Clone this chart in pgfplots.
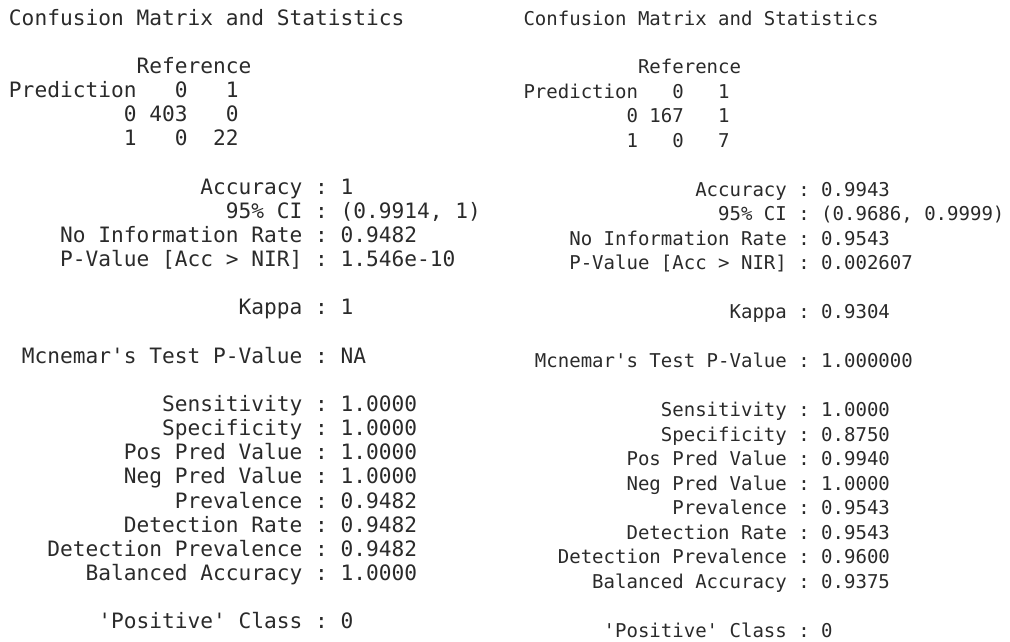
\documentclass[border=0pt]{standalone}
\usepackage{fontspec}
\setmonofont{DejaVu Sans Mono}
\usepackage{pgfplots}
\pgfplotsset{compat=1.18}
\definecolor{txt}{HTML}{2A2A2A}
% left column grid: x0=9, pitch 12.75, baseline 25 + (n-1)*24.15
\newcommand\Ltx[3]{\node[anchor=base west,inner sep=0pt,outer sep=0pt,text=txt,font=\fontsize{21.18}{24}\selectfont\ttfamily] at (axis cs:{9+#1*12.75},{25+(#2-1)*24.15}) {#3};}
% right column grid: x0=523.5, pitch 11.45, baseline 25 + (n-1)*24.48
\newcommand\Rtx[3]{\node[anchor=base west,inner sep=0pt,outer sep=0pt,text=txt,font=\fontsize{19.02}{24}\selectfont\ttfamily] at (axis cs:{523.5+#1*11.45},{25+(#2-1)*24.48}) {#3};}
\begin{document}
\begin{tikzpicture}
\begin{axis}[hide axis, scale only axis, width=1010pt, height=641pt,
  xmin=0, xmax=1010, ymin=0, ymax=641, y dir=reverse, clip=false]
\addplot[draw=none] coordinates {(0,0) (1010,641)};
% ---------- left ----------
\Ltx{0}{1}{Confusion Matrix and Statistics}
\Ltx{10}{3}{Reference}
\Ltx{0}{4}{Prediction}
\Ltx{13}{4}{0}
\Ltx{17}{4}{1}
\Ltx{9}{5}{0}
\Ltx{11}{5}{403}
\Ltx{17}{5}{0}
\Ltx{9}{6}{1}
\Ltx{13}{6}{0}
\Ltx{16}{6}{22}
\Ltx{15}{8}{Accuracy : 1}
\Ltx{17}{9}{95\% CI : (0.9914, 1)}
\Ltx{4}{10}{No Information Rate : 0.9482}
\Ltx{4}{11}{P-Value [Acc > NIR] : 1.546e-10}
\Ltx{18}{13}{Kappa : 1}
\Ltx{1}{15}{Mcnemar's Test P-Value : NA}
\Ltx{12}{17}{Sensitivity : 1.0000}
\Ltx{12}{18}{Specificity : 1.0000}
\Ltx{9}{19}{Pos Pred Value : 1.0000}
\Ltx{9}{20}{Neg Pred Value : 1.0000}
\Ltx{13}{21}{Prevalence : 0.9482}
\Ltx{9}{22}{Detection Rate : 0.9482}
\Ltx{3}{23}{Detection Prevalence : 0.9482}
\Ltx{6}{24}{Balanced Accuracy : 1.0000}
\Ltx{7}{26}{'Positive' Class : 0}
% ---------- right ----------
\Rtx{0}{1}{Confusion Matrix and Statistics}
\Rtx{10}{3}{Reference}
\Rtx{0}{4}{Prediction}
\Rtx{13}{4}{0}
\Rtx{17}{4}{1}
\Rtx{9}{5}{0}
\Rtx{11}{5}{167}
\Rtx{17}{5}{1}
\Rtx{9}{6}{1}
\Rtx{13}{6}{0}
\Rtx{17}{6}{7}
\Rtx{15}{8}{Accuracy : 0.9943}
\Rtx{17}{9}{95\% CI : (0.9686, 0.9999)}
\Rtx{4}{10}{No Information Rate : 0.9543}
\Rtx{4}{11}{P-Value [Acc > NIR] : 0.002607}
\Rtx{18}{13}{Kappa : 0.9304}
\Rtx{1}{15}{Mcnemar's Test P-Value : 1.000000}
\Rtx{12}{17}{Sensitivity : 1.0000}
\Rtx{12}{18}{Specificity : 0.8750}
\Rtx{9}{19}{Pos Pred Value : 0.9940}
\Rtx{9}{20}{Neg Pred Value : 1.0000}
\Rtx{13}{21}{Prevalence : 0.9543}
\Rtx{9}{22}{Detection Rate : 0.9543}
\Rtx{3}{23}{Detection Prevalence : 0.9600}
\Rtx{6}{24}{Balanced Accuracy : 0.9375}
\Rtx{7}{26}{'Positive' Class : 0}
\end{axis}
\pgfresetboundingbox
\path (current axis.south west) rectangle (current axis.north east);
\end{tikzpicture}
\end{document}
